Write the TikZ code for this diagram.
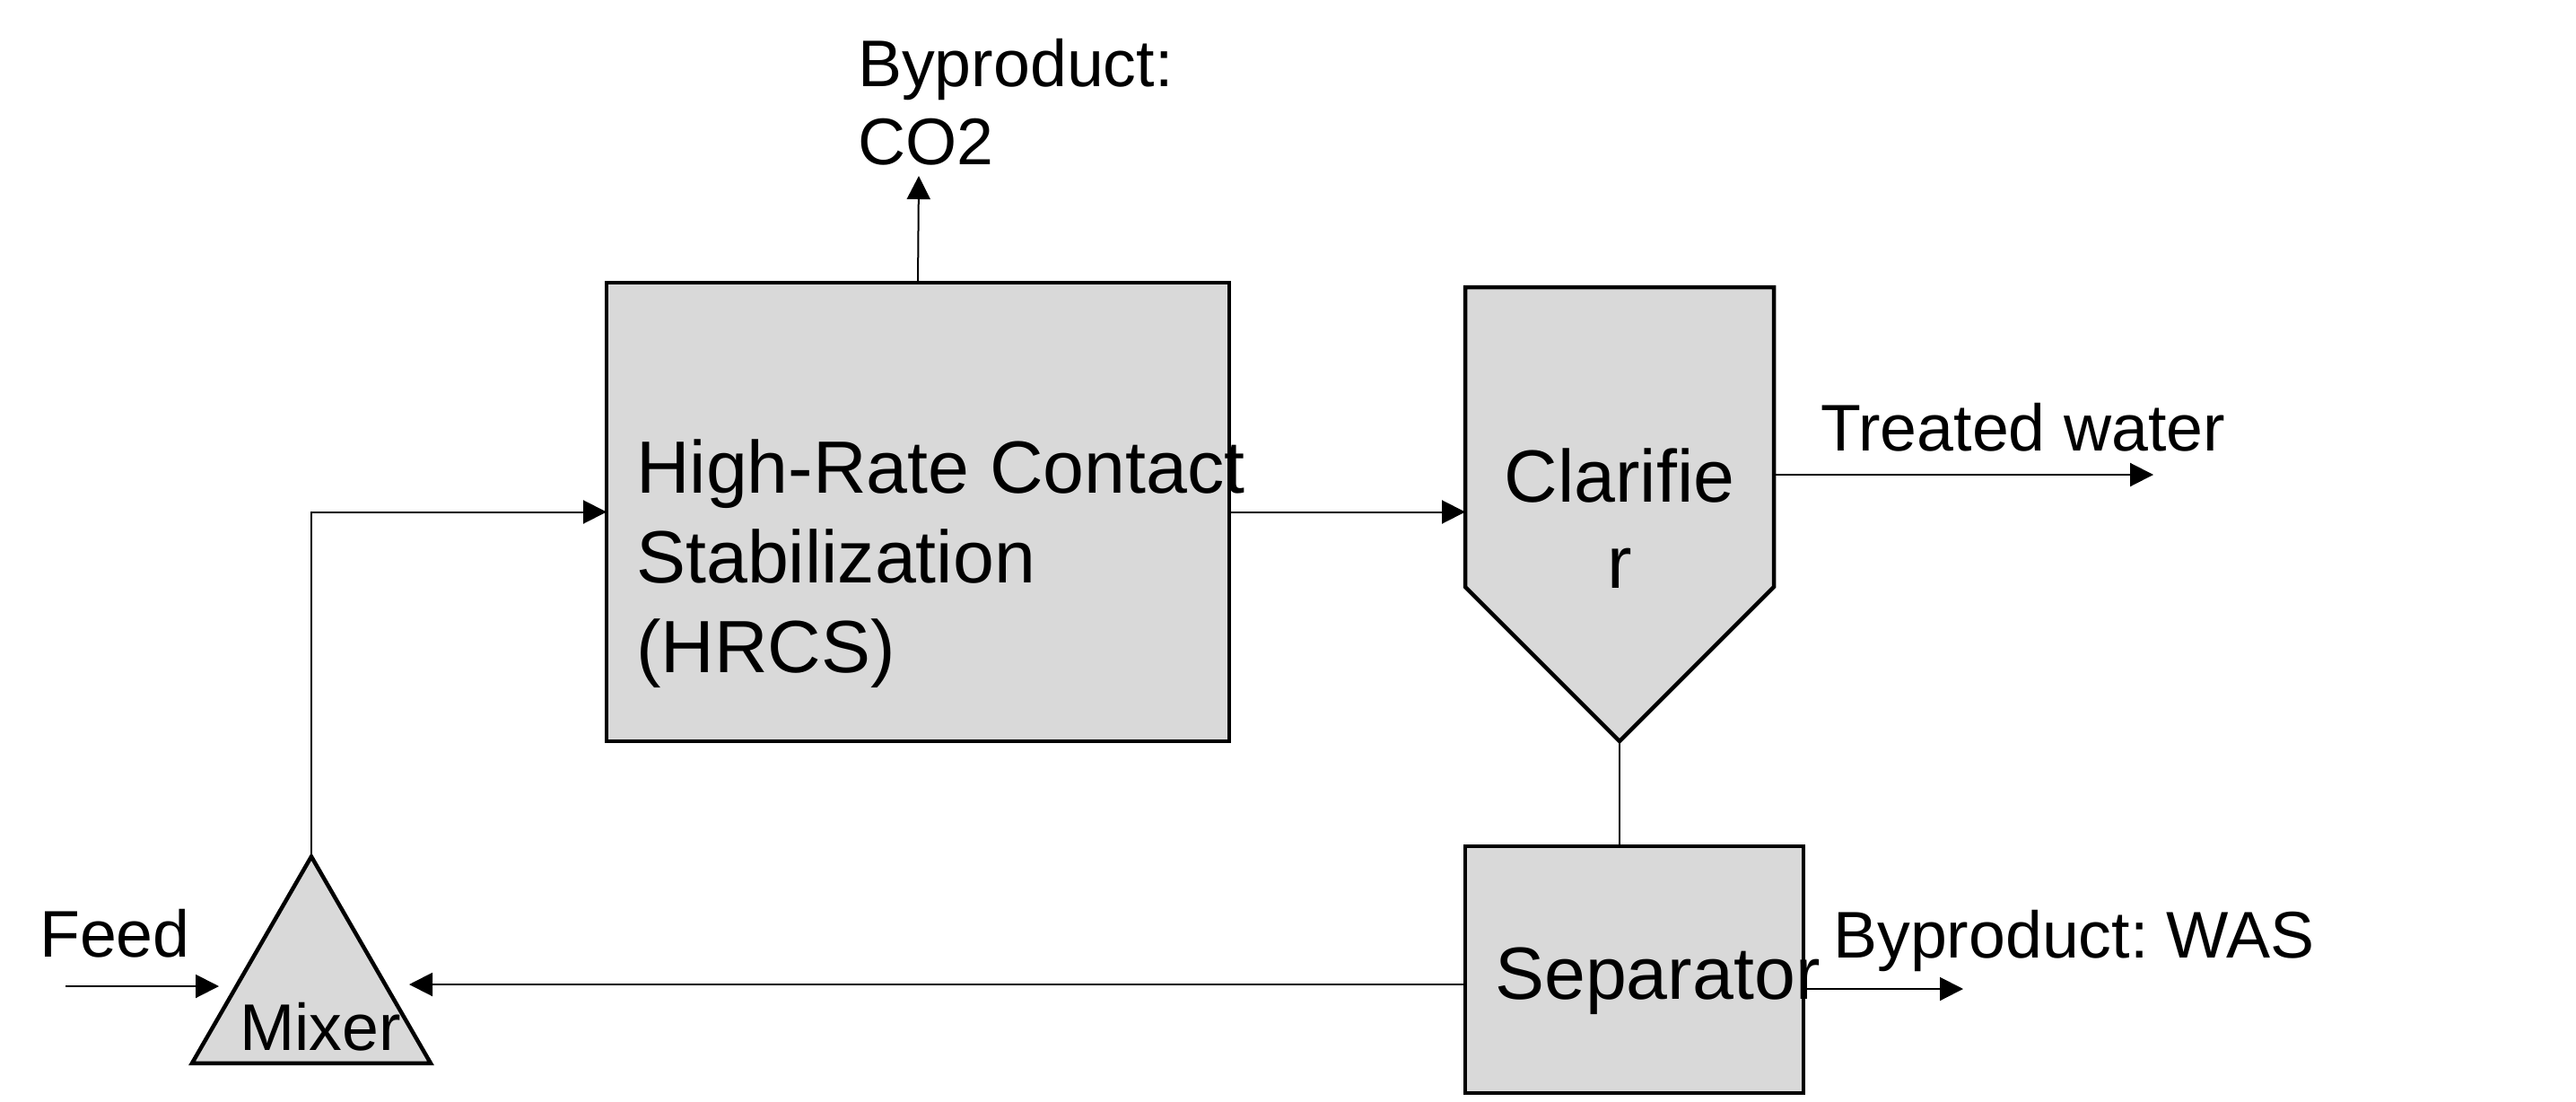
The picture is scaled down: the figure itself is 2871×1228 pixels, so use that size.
\documentclass[tikz,border=0pt]{standalone}
\usepackage{fontspec}
\setmainfont{Liberation Sans}
\usetikzlibrary{arrows.meta,shapes.geometric}
\definecolor{boxgray}{HTML}{D9D9D9}
\frenchspacing
\begin{document}
\begin{tikzpicture}[x=1pt,y=-1pt,
  unit/.style={draw=black,fill=boxgray,line width=4.5pt,inner sep=0pt,outer sep=0pt},
  flow/.style={line width=2pt,-{Triangle[length=26pt,width=26pt]}},
  plain/.style={line width=2pt},
  big/.style={font=\fontsize{82.5}{100}\selectfont,inner sep=0pt,anchor=base west},
  lbl/.style={font=\fontsize{73.5}{84}\selectfont,inner sep=0pt,anchor=base west}]
\useasboundingbox[fill=white] (0,0) rectangle (2871,1228);

% units
\node[unit,rectangle,minimum width=694pt,minimum height=511pt] (hrcs) at (1023,570.5) {};
\node[unit,rectangle,minimum width=377pt,minimum height=275pt] (sep) at (1821.5,1080.5) {};
\node[unit,regular polygon,regular polygon sides=3,minimum size=307pt] (mixer) at (347,1108) {};
\draw[unit] (1633,320) -- (1977,320) -- (1977,654) -- (1805,826) -- (1633,654) -- cycle;

% named ports
\coordinate (clarIn) at (1633,570.5);
\coordinate (clarOut) at (1977,529);
\coordinate (clarTip) at (1805,826);
\coordinate (treatedEnd) at (2400,529);
\coordinate (co2Tip) at (1024,196);
\coordinate (feedStart) at (73,1099);
\coordinate (feedEnd) at (244,1099);
\coordinate (sepW) at (1633,1097);
\coordinate (mixIn) at (456,1097);
\coordinate (sepE) at (2010,1102);
\coordinate (wasEnd) at (2188,1102);

% texts
\node[big] (hrcsA) at (709,549) {High-Rate Contact};
\node[big] (hrcsB) at (709,649) {Stabilization};
\node[big] (hrcsC) at (709,749) {(HRCS)};
\node[big,anchor=base] (clarA) at (1805,559) {Clarifie};
\node[big,anchor=base] (clarB) at (1805,655) {r};
\node[big] (sepT) at (1666,1113) {Separator};
\node[lbl] (mixT) at (267,1170) {Mixer};
\node[lbl] (feedT) at (44,1066) {Feed};
\node[lbl] (co2A) at (956,97) {Byproduct:};
\node[lbl] (co2B) at (956,183) {CO2};
\node[lbl] (treatT) at (2029,502) {Treated water};
\node[lbl] (wasT) at (2043,1067) {Byproduct: WAS};

% connectors
\draw[flow] (feedStart) -- (feedEnd);
\draw[flow] (mixer.corner 1) |- (hrcs.west);
\draw[flow] (hrcs.east) -- (clarIn);
\draw[flow] (hrcs.north) -- (co2Tip);
\draw[flow] (clarOut) -- (treatedEnd);
\draw[plain] (clarTip) -- (clarTip |- sep.north);
\draw[flow] (sepW) -- (mixIn);
\draw[flow] (sepE) -- (wasEnd);
\end{tikzpicture}
\end{document}
